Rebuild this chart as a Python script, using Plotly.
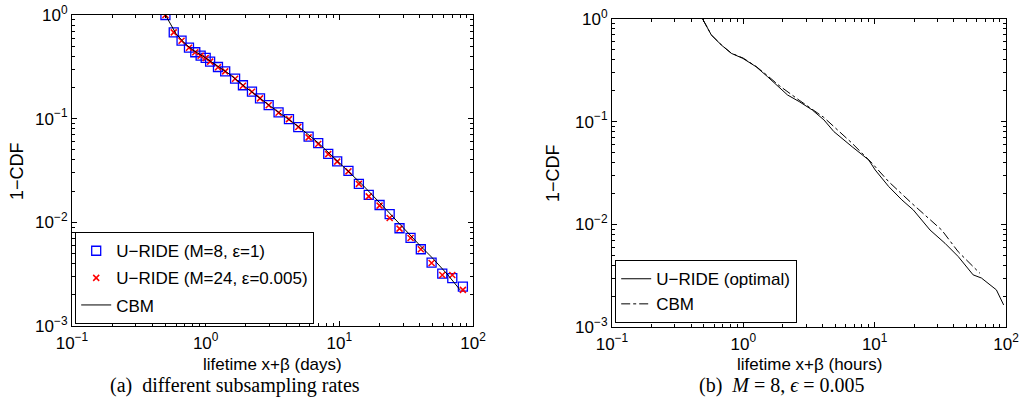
import plotly.graph_objects as go

# ---------------- data (panel a) ----------------
a_sq_x = [0.5, 0.577, 0.66, 0.75, 0.836, 0.917, 1.0, 1.08, 1.236, 1.40, 1.66, 1.90, 2.22, 2.55,
          2.96, 3.51, 4.2, 4.93, 5.89, 6.95, 8.26, 9.64, 11.7, 14.0, 16.6, 20.0, 23.8, 28.2,
          34.1, 40.7, 49.0, 58.9, 70.0, 84.0]
a_sq_y = [1.0, 0.68, 0.565, 0.484, 0.437, 0.405, 0.385, 0.355, 0.315, 0.286, 0.243, 0.210, 0.182,
          0.157, 0.135, 0.115, 0.099, 0.083, 0.067, 0.058, 0.0457, 0.0388, 0.0313, 0.0235, 0.0184,
          0.0147, 0.0120, 0.00877, 0.00708, 0.0055, 0.00409, 0.0032, 0.00289, 0.0024]
a_x_x = a_sq_x
a_x_y = [1.0, 0.68, 0.565, 0.484, 0.437, 0.405, 0.385, 0.355, 0.313, 0.286, 0.243, 0.208, 0.182,
         0.157, 0.135, 0.114, 0.099, 0.083, 0.066, 0.057, 0.0455, 0.0385, 0.0310, 0.0235, 0.0178,
         0.0145, 0.0110, 0.00870, 0.00705, 0.0055, 0.00405, 0.0031, 0.0031, 0.00223]
a_cbm_x = [0.5, 0.6, 0.7, 0.8, 1.0, 1.5, 2.0, 3.0, 5.0, 7.0, 10.0, 15.0, 20.0, 32.6, 40.0, 50.0, 65.0, 80.0]
a_cbm_y = [1.0, 0.66, 0.53, 0.46, 0.385, 0.27, 0.20, 0.134, 0.083, 0.058, 0.0375, 0.0228, 0.0155,
           0.00785, 0.0060, 0.0045, 0.0031, 0.00223]

# ---------------- data (panel b) ----------------
b_opt_x = [0.49, 0.57, 0.68, 0.81, 0.99, 1.25, 1.53, 1.87, 2.17, 2.66, 3.35, 4.11, 4.89, 6.73,
           9.0, 10.1, 12.8, 16.1, 19.7, 26.4, 34.3, 43.3, 56.2, 65.0, 75.3, 84.5, 96.0]
b_opt_y = [1.0, 0.70, 0.558, 0.463, 0.414, 0.343, 0.274, 0.219, 0.182, 0.157, 0.130, 0.104, 0.080,
           0.057, 0.0424, 0.0338, 0.0233, 0.0173, 0.0138, 0.0088, 0.00654, 0.00485, 0.00322,
           0.0030, 0.00258, 0.0023, 0.00164]
b_cbm_x = [0.49, 0.57, 0.68, 0.81, 1.0, 1.25, 1.53, 1.87, 2.66, 4.1, 6.7, 9.55, 12.8, 19.2, 32.4, 43.3, 63.2]
b_cbm_y = [1.0, 0.70, 0.56, 0.465, 0.415, 0.345, 0.28, 0.225, 0.162, 0.110, 0.062, 0.0394, 0.026,
           0.016, 0.0088, 0.0054, 0.00334]

# ---------------- axis ticks ----------------
x_tickvals = [0.1, 1, 10, 100]
x_ticktext = ["10<sup>−1</sup>", "10<sup>0</sup>", "10<sup>1</sup>", "10<sup>2</sup>"]
y_tickvals = [0.001, 0.01, 0.1, 1]
y_ticktext = ["10<sup>−3</sup>", "10<sup>−2</sup>", "10<sup>−1</sup>", "10<sup>0</sup>"]

FONT = "Liberation Sans, Arial, sans-serif"
SERIF = "Liberation Serif, DejaVu Serif, serif"

fig = go.Figure()

fig.add_trace(go.Scatter(x=a_sq_x, y=a_sq_y, mode="markers", name="U−RIDE (M=8, ε=1)",
                         marker=dict(symbol="square-open", size=9, color="#0000ff",
                                     line=dict(width=1.3, color="#0000ff")),
                         xaxis="x", yaxis="y", legend="legend", legendgroup="a1"))
fig.add_trace(go.Scatter(x=a_x_x, y=a_x_y, mode="markers", name="U−RIDE (M=24, ε=0.005)",
                         marker=dict(symbol="x-thin-open", size=6, color="#ff0000",
                                     line=dict(width=1.5, color="#ff0000")),
                         xaxis="x", yaxis="y", legend="legend", legendgroup="a2"))
fig.add_trace(go.Scatter(x=a_cbm_x, y=a_cbm_y, mode="lines", name="CBM",
                         line=dict(color="black", width=1),
                         xaxis="x", yaxis="y", legend="legend", legendgroup="a3"))

fig.add_trace(go.Scatter(x=b_opt_x, y=b_opt_y, mode="lines", name="U−RIDE (optimal)",
                         line=dict(color="black", width=1),
                         xaxis="x2", yaxis="y2", legend="legend2"))
fig.add_trace(go.Scatter(x=b_cbm_x, y=b_cbm_y, mode="lines", name="CBM",
                         line=dict(color="black", width=1, dash="dashdot"),
                         xaxis="x2", yaxis="y2", legend="legend2"))

W, H = 1029, 416
minor_vals = [m * 10 ** e for e in (-3, -2, -1, 0, 1) for m in range(2, 10)]


def xaxis(domain, anchor):
    return dict(type="log", range=[-1, 2], domain=domain, anchor=anchor,
                tickvals=x_tickvals, ticktext=x_ticktext, ticks="inside", ticklen=5,
                tickcolor="black", showline=True, linecolor="black", linewidth=1.2,
                mirror="ticks", showgrid=False, zeroline=False, automargin=False,
                ticklabelstandoff=1,
                tickfont=dict(family=FONT, size=17, color="black"),
                minor=dict(tickvals=minor_vals, ticks="inside", ticklen=3, tickcolor="black",
                           showgrid=False))


def yaxis(domain, anchor):
    return dict(type="log", range=[-3, 0], domain=domain, anchor=anchor,
                tickvals=y_tickvals, ticktext=y_ticktext, ticks="inside", ticklen=5,
                tickcolor="black", showline=True, linecolor="black", linewidth=1.2,
                mirror="ticks", showgrid=False, zeroline=False, automargin=False,
                tickfont=dict(family=FONT, size=17, color="black"),
                minor=dict(tickvals=minor_vals, ticks="inside", ticklen=3, tickcolor="black",
                           showgrid=False))


fig.update_layout(
    width=W, height=H, margin=dict(l=0, r=0, t=0, b=0),
    paper_bgcolor="white", plot_bgcolor="white",
    font=dict(family=FONT, size=17, color="black"),
    xaxis=xaxis([72 / W, 473 / W], "y"),
    yaxis=yaxis([1 - 326 / H, 1 - 15 / H], "x"),
    xaxis2=xaxis([612 / W, 1006 / W], "y2"),
    yaxis2=yaxis([1 - 327 / H, 1 - 19 / H], "x2"),
    showlegend=True,
    legend=dict(x=75 / W, y=1 - 324 / H, xanchor="left", yanchor="bottom",
                bgcolor="white", bordercolor="black", borderwidth=1.2,
                font=dict(family=FONT, size=17, color="black"),
                traceorder="grouped", tracegroupgap=2),
    legend2=dict(x=615 / W, y=1 - 323 / H, xanchor="left", yanchor="bottom",
                 bgcolor="white", bordercolor="black", borderwidth=1.2,
                 font=dict(family=FONT, size=17, color="black")),
    annotations=[
        dict(text="lifetime x+β (days)", x=272.5 / W, y=1 - 364 / H, xref="paper", yref="paper",
             showarrow=False, xanchor="center", yanchor="middle",
             font=dict(family=FONT, size=17, color="black")),
        dict(text="lifetime x+β (hours)", x=809 / W, y=1 - 364 / H, xref="paper", yref="paper",
             showarrow=False, xanchor="center", yanchor="middle",
             font=dict(family=FONT, size=17, color="black")),
        dict(text="1−CDF", x=17 / W, y=1 - 171 / H, xref="paper", yref="paper", textangle=-90,
             showarrow=False, xanchor="center", yanchor="middle",
             font=dict(family=FONT, size=18, color="black")),
        dict(text="1−CDF", x=553 / W, y=1 - 173 / H, xref="paper", yref="paper", textangle=-90,
             showarrow=False, xanchor="center", yanchor="middle",
             font=dict(family=FONT, size=18, color="black")),
        dict(text="(a)  different subsampling rates", x=235 / W, y=1 - 385 / H,
             xref="paper", yref="paper", showarrow=False, xanchor="center", yanchor="middle",
             font=dict(family=SERIF, size=20, color="black")),
        dict(text="(b)  <i>M</i> = 8, <i>ϵ</i> = 0.005", x=782 / W, y=1 - 385 / H,
             xref="paper", yref="paper", showarrow=False, xanchor="center", yanchor="middle",
             font=dict(family=SERIF, size=20, color="black")),
    ],
)

fig.write_html("out.html")
